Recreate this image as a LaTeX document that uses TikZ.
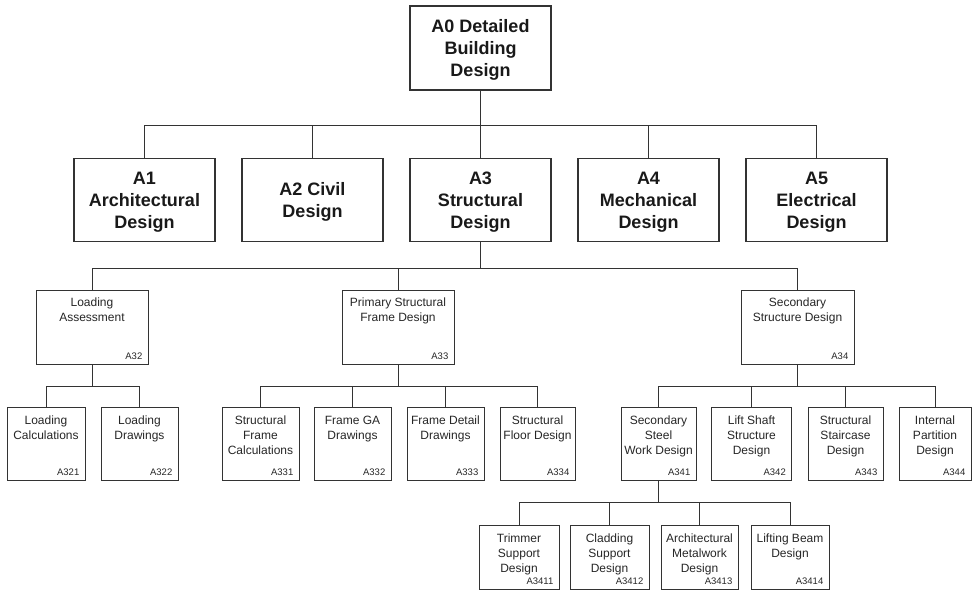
\documentclass[tikz,border=0pt]{standalone}
\usepackage{fontspec}
\setmainfont{Liberation Sans}
\tikzset{
  lvl/.style={draw=black!80, line width=1.1pt, minimum width=141pt, minimum height=83pt, inner sep=0pt, align=center, text depth=0pt, font=\fontsize{18}{22}\selectfont\bfseries, text=black!90},
  sbox/.style={draw=black!80, line width=1pt, inner sep=0pt},
  ttl/.style={inner sep=0pt, align=center, anchor=north, font=\fontsize{12}{15}\selectfont, text=black!85},
  codelbl/.style={inner sep=0pt, anchor=south east, font=\fontsize{9.5}{10}\selectfont, text=black!85},
  conn/.style={draw=black!80, line width=0.9pt},
}
\newcommand\mybox[8]{%
  \node[sbox, minimum width=#4pt, minimum height=#5pt] (#1) at (#2,#3) {};
  \node[ttl] (#1t) at ([yshift=-#8pt]#1.north) {#6};
  \node[codelbl] (#1c) at ([xshift=-6pt,yshift=5pt]#1.south east) {#7};
}
\begin{document}
\begin{tikzpicture}[x=1pt,y=-1pt]
\useasboundingbox (0,0) rectangle (972,591);
% level 0
\node[lvl, minimum height=84pt] (a0) at (480.5,48) {A0 Detailed\\Building\\Design};
% level 1
\node[lvl] (a1) at (144.5,200) {A1\\Architectural\\Design};
\node[lvl] (a2) at (312.5,200) {A2 Civil\\Design};
\node[lvl] (a3) at (480.5,200) {A3\\Structural\\Design};
\node[lvl] (a4) at (648.5,200) {A4\\Mechanical\\Design};
\node[lvl] (a5) at (816.5,200) {A5\\Electrical\\Design};
% level 2
\mybox{a32}{92}{327}{112}{74}{Loading\\Assessment}{A32}{8}
\mybox{a33}{398}{327}{112}{74}{Primary Structural\\Frame Design}{A33}{8}
\mybox{a34}{797.5}{327}{113}{74}{Secondary\\Structure Design}{A34}{8}
% level 3
\mybox{a321}{46}{443.5}{78}{73}{Loading\\Calculations}{A321}{9}
\mybox{a322}{139.5}{443.5}{77}{73}{Loading\\Drawings}{A322}{9}
\mybox{a331}{260.5}{443.5}{77}{73}{Structural\\Frame\\Calculations}{A331}{9}
\mybox{a332}{352.5}{443.5}{77}{73}{Frame GA\\Drawings}{A332}{9}
\mybox{a333}{445.5}{443.5}{77}{73}{Frame Detail\\Drawings}{A333}{9}
\mybox{a334}{537.5}{443.5}{75}{73}{Structural\\Floor Design}{A334}{9}
\mybox{a341}{658.5}{443.5}{75}{73}{Secondary\\Steel\\Work Design}{A341}{9}
\mybox{a342}{751.5}{443.5}{80}{73}{Lift Shaft\\Structure\\Design}{A342}{9}
\mybox{a343}{845.5}{443.5}{75}{73}{Structural\\Staircase\\Design}{A343}{9}
\mybox{a344}{935}{443.5}{72}{73}{Internal\\Partition\\Design}{A344}{9}
% level 4
\mybox{a3411}{519}{557}{80}{64}{Trimmer\\Support\\Design}{A3411}{9}
\mybox{a3412}{609.5}{557}{79}{64}{Cladding\\Support\\Design}{A3412}{9}
\mybox{a3413}{699.5}{557}{77}{64}{Architectural\\Metalwork\\Design}{A3413}{9}
\mybox{a3414}{790}{557}{78}{64}{Lifting Beam\\Design}{A3414}{9}
% bus coordinates
\coordinate (b1) at (0,125);
\coordinate (b2) at (0,268);
\coordinate (b3) at (0,386);
\coordinate (b4) at (0,502);
% connectors
\draw[conn] (a0.south) -- (a0.south |- b1);
\foreach \c in {a1,a2,a3,a4,a5} \draw[conn] (a0.south |- b1) -| (\c.north);
\draw[conn] (a3.south) -- (a3.south |- b2);
\foreach \c in {a32,a33,a34} \draw[conn] (a3.south |- b2) -| (\c.north);
\draw[conn] (a32.south) -- (a32.south |- b3);
\foreach \c in {a321,a322} \draw[conn] (a32.south |- b3) -| (\c.north);
\draw[conn] (a33.south) -- (a33.south |- b3);
\foreach \c in {a331,a332,a333,a334} \draw[conn] (a33.south |- b3) -| (\c.north);
\draw[conn] (a34.south) -- (a34.south |- b3);
\foreach \c in {a341,a342,a343,a344} \draw[conn] (a34.south |- b3) -| (\c.north);
\draw[conn] (a341.south) -- (a341.south |- b4);
\foreach \c in {a3411,a3412,a3413,a3414} \draw[conn] (a341.south |- b4) -| (\c.north);
\end{tikzpicture}
\end{document}
